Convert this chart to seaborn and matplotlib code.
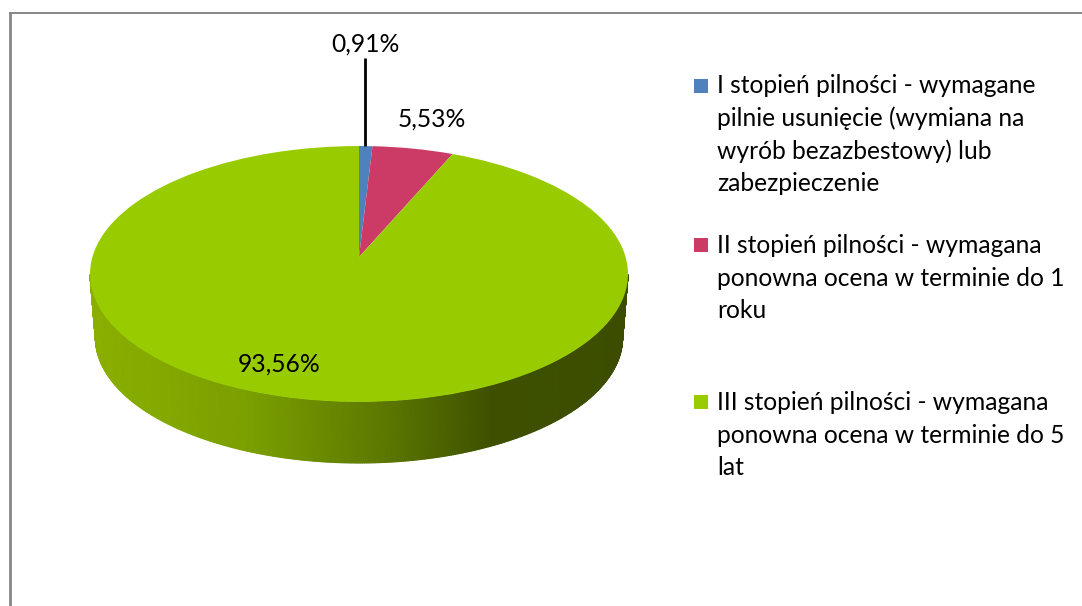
import numpy as np
import matplotlib
matplotlib.use("Agg")
import matplotlib.pyplot as plt
from matplotlib.transforms import Transform
from matplotlib.colors import LinearSegmentedColormap
import seaborn as sns

# data
categories = [
    "I stopień pilności - wymagane\npilnie usunięcie (wymiana na\nwyrób bezazbestowy) lub\nzabezpieczenie",
    "II stopień pilności - wymagana\nponowna ocena w terminie do 1\nroku",
    "III stopień pilności - wymagana\nponowna ocena w terminie do 5\nlat",
]
values = [0.91, 5.53, 93.56]
colors = ["#4F81BD", "#CC3A66", "#99CC00"]

W, H = 1082, 606
sns.set_theme(style="white")
plt.rcParams["font.family"] = ["Lato", "DejaVu Sans"]
palette = sns.color_palette(colors)

fig = plt.figure(figsize=(W / 100, H / 100), dpi=100, facecolor="white")
FL, FT = 9.5, 12.5
ax = fig.add_axes([FL / W, 0, 1 - FL / W, 1 - FT / H])

# perspective projection of the unit pie disc
CX, CY = 359.0, 257.0
K = 0.1328
A, B = 266.6, 125.7
DEPTH, SCALE = 64.0, 0.98


def project(u, v, scale=1.0, dy=0.0):
    w = 1 - K * v
    return CX + scale * A * u / w, CY + dy + scale * B * v / w


class PiePerspective(Transform):
    input_dims = output_dims = 2
    is_separable = False
    has_inverse = False

    def transform_non_affine(self, values):
        pts = np.asarray(values, float)
        x, y = project(pts[:, 0], -pts[:, 1])
        return np.column_stack([x, y])


wedges, _ = ax.pie(values, colors=palette, startangle=90, counterclock=False,
                   radius=1, wedgeprops=dict(linewidth=0))
ax.set_aspect("auto")
ax.set_xlim(FL, W)
ax.set_ylim(H, FT)

persp = PiePerspective()
for wd in wedges:
    wd.set_transform(persp + ax.transData)
    wd.set_zorder(3)

# side wall with the horizontal shading
t0 = np.arcsin(K)
t = np.linspace(np.pi - t0, t0, 400)
xt, yt = project(np.cos(t), np.sin(t))
xb, yb = project(np.cos(t), np.sin(t), SCALE, DEPTH)
MX = np.vstack([xt, xb])
MY = np.vstack([yt, yb])
wall_cmap = LinearSegmentedColormap.from_list(
    "wall", [(0, "#8BB000"), (0.30, "#7A9F00"), (0.55, "#5C7800"),
             (0.75, "#3E5000"), (1, "#3C4D00")])
ax.pcolormesh(MX, MY, (MX - xt.min()) / (xt.max() - xt.min()), cmap=wall_cmap,
              vmin=0, vmax=1, shading="gouraud", zorder=2)

# frame
ax.set_frame_on(True)
for s in ("right", "bottom"):
    ax.spines[s].set_visible(False)
ax.spines["left"].set(visible=True, color="#868686", linewidth=2.0)
ax.spines["top"].set(visible=True, color="#868686", linewidth=1.4)

# data labels
FS = 17.7
labels = [f"{v:.2f}".replace(".", ",") + "%" for v in values]
ax.plot([365.3, 365.3], [58, 146], color="black", lw=2.0, zorder=4,
        solid_capstyle="butt")
for lab, (x, y) in zip(labels, [(365, 44), (432, 119), (279, 364)]):
    ax.text(x, y, lab, ha="center", va="center", fontsize=FS, color="black", zorder=5)

# legend
legend_marker_x = 700.5
legend_marker_y = [86, 245, 402]
legend_text_y = [134.5, 278, 435]
for cat, col, ym, yt_ in zip(categories, palette, legend_marker_y, legend_text_y):
    ax.scatter([legend_marker_x], [ym], marker="s", s=115, color=[col], linewidths=0,
               zorder=5)
    ax.text(717, yt_, cat, ha="left", va="center", fontsize=FS, color="black",
            linespacing=1.49, zorder=5)

fig.savefig("out.png", dpi=100, facecolor="white")
